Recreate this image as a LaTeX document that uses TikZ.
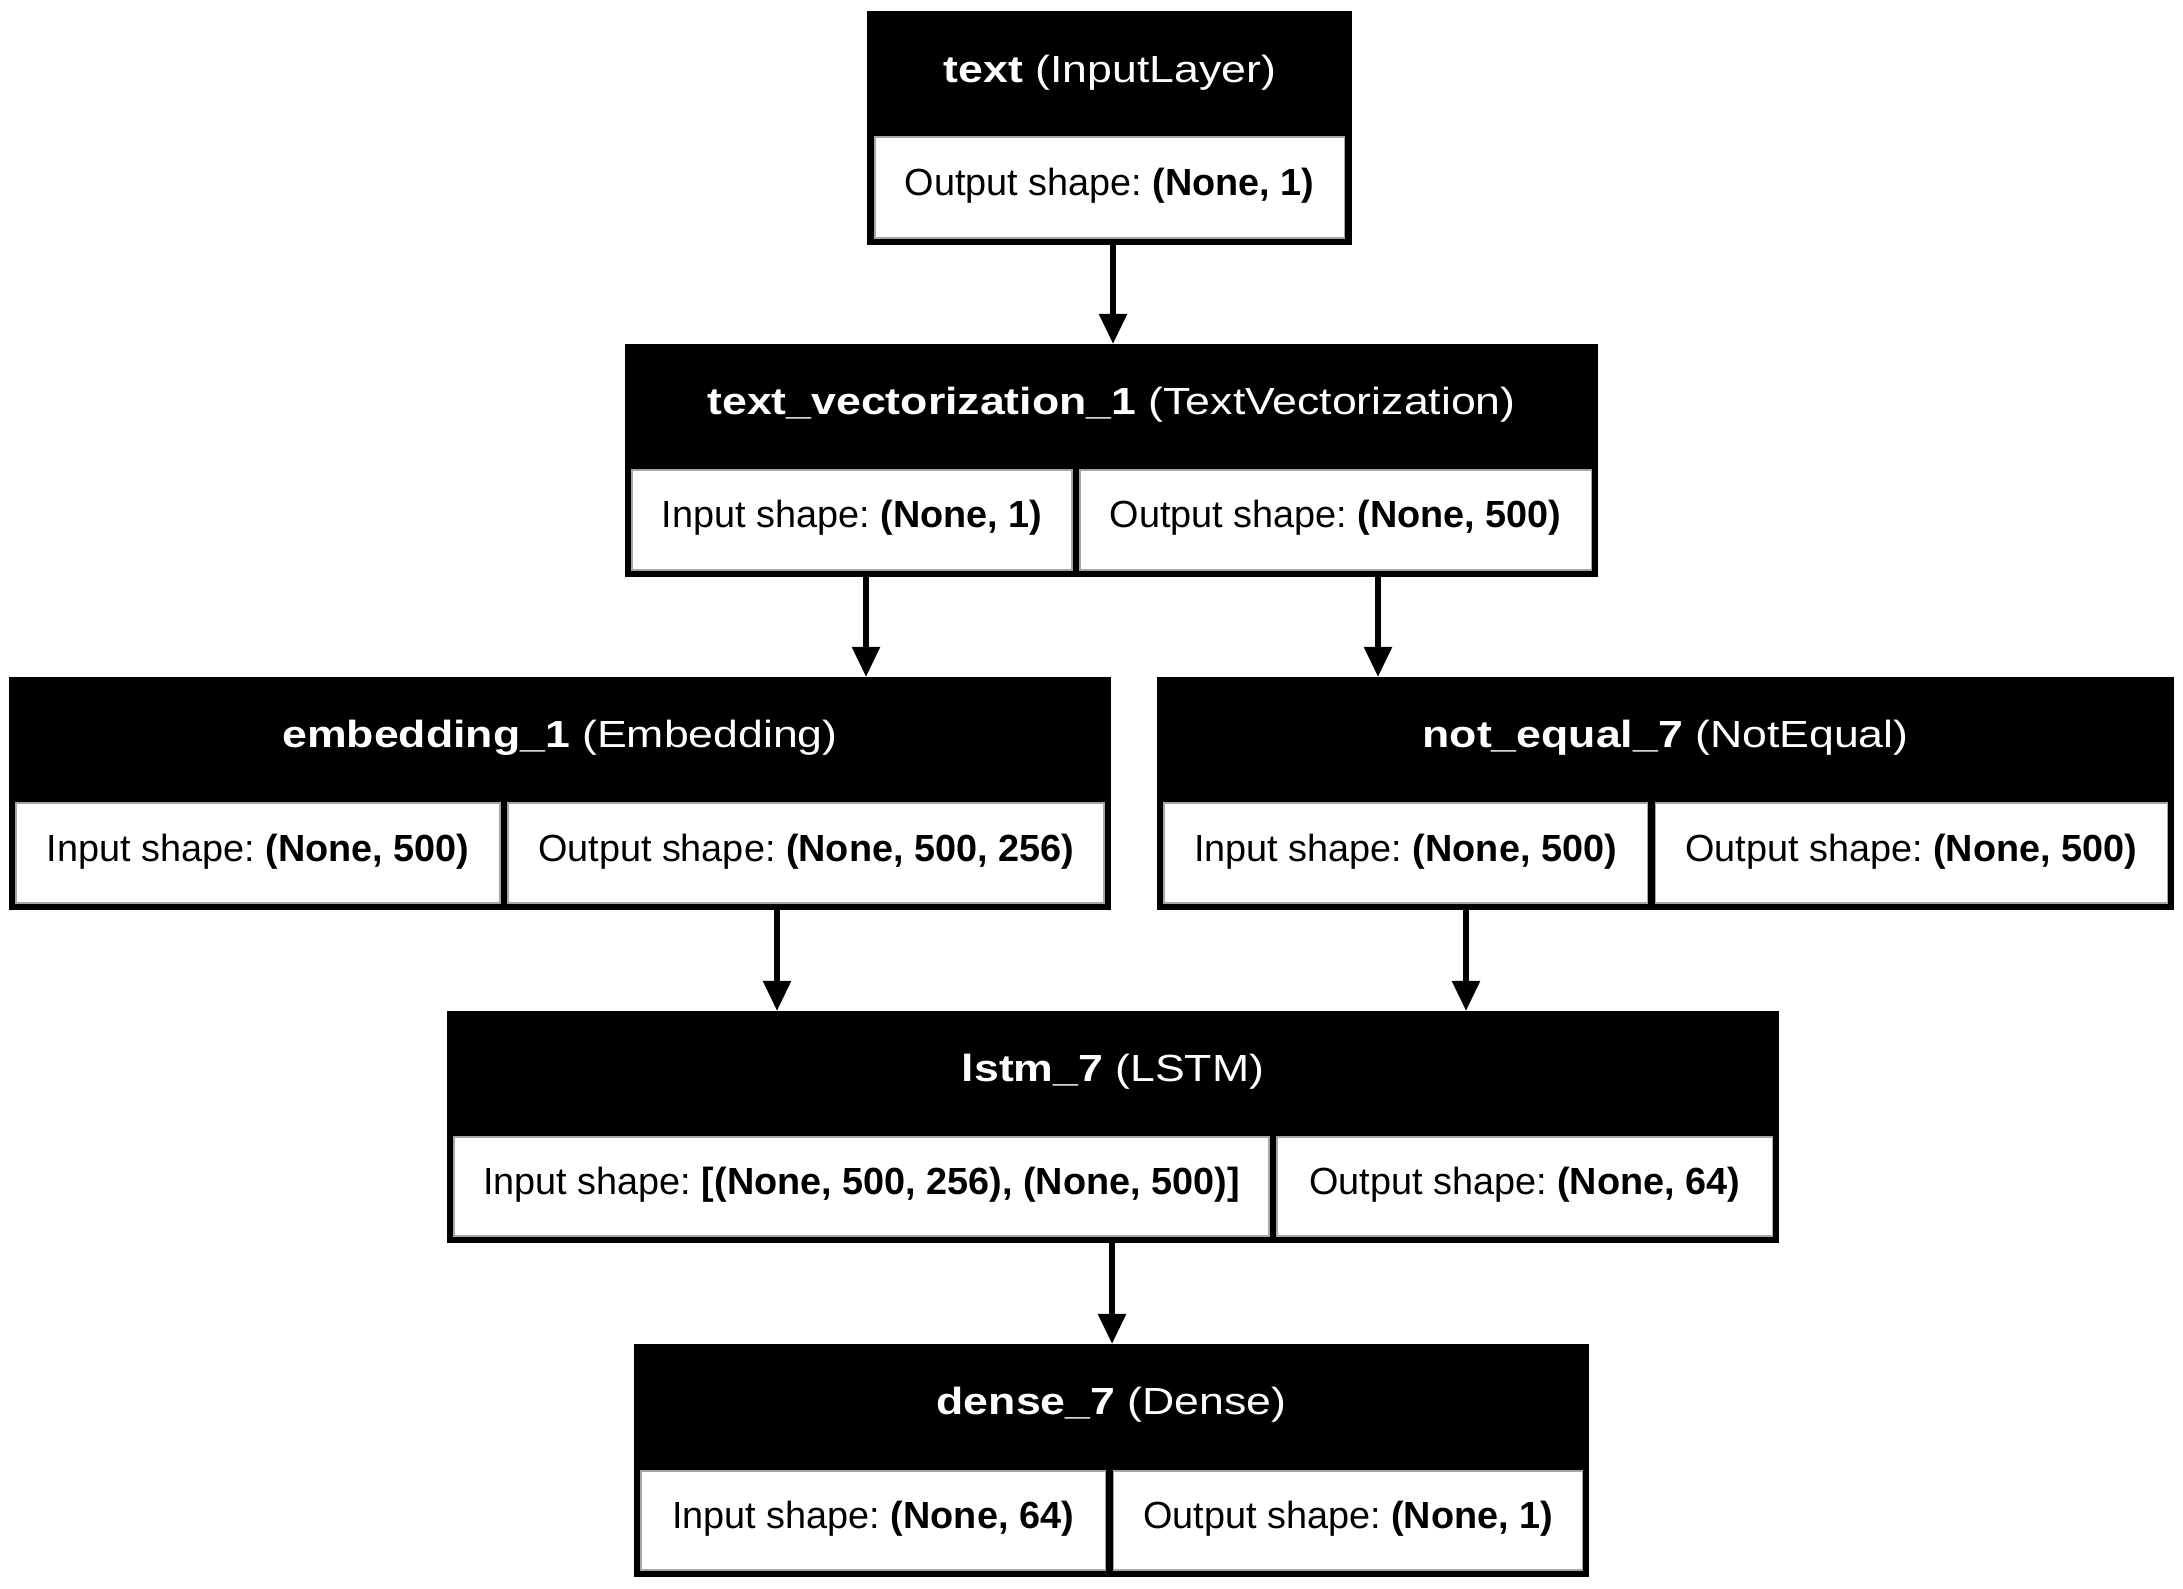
\documentclass[tikz,border=0pt]{standalone}
\usepackage{fontspec}
\setmainfont{Liberation Sans}
\newfontfamily\titlefont{Liberation Sans}[FakeStretch=1.18]
\usetikzlibrary{arrows.meta}
\frenchspacing
\tikzset{
  outerbox/.style={fill=black, draw=none, inner sep=0pt, outer sep=0pt, rectangle},
  cellfill/.style={fill=white, draw=black!35, line width=0.3pt},
  rowtxt/.style={anchor=base, inner sep=0pt, font=\fontsize{10.75}{12}\selectfont, text=black},
  titletxt/.style={anchor=base, inner sep=0pt, font=\titlefont\fontsize{10.75}{12}\selectfont, text=white},
  arr/.style={line width=1.6pt, -{Triangle[length=0.30cm, width=0.27cm]}}
}
\begin{document}
\begin{tikzpicture}[x=0.01cm, y=-0.01cm]
\useasboundingbox (0,0) rectangle (2183,1589);
\fill[white] (0,0) rectangle (2183,1589);

% ---- box 1: text
\node[outerbox, minimum width=4.85cm, minimum height=2.34cm] (b1) at (1109.5,128) {};
\path[cellfill] (875,137) rectangle (1344,238);
\node[titletxt] (b1t) at (1110,83) {\textbf{text} (InputLayer)};
\node[rowtxt] (b1o) at (1109.5,196) {Output shape: \textbf{(None, 1)}};

% ---- box 2: text_vectorization_1
\node[outerbox, minimum width=9.73cm, minimum height=2.33cm] (b2) at (1111.5,460.5) {};
\path[cellfill] (632,470) rectangle (1072,570);
\path[cellfill] (1080,470) rectangle (1591,570);
\node[titletxt] (b2t) at (1111.5,415) {\textbf{text\_vectorization\_1} (TextVectorization)};
\node[rowtxt] (b2i) at (852,528) {Input shape: \textbf{(None, 1)}};
\node[rowtxt] (b2o) at (1335.5,528) {Output shape: \textbf{(None, 500)}};

% ---- box 3: embedding_1
\node[outerbox, minimum width=11.02cm, minimum height=2.33cm] (b3) at (560,793.5) {};
\path[cellfill] (16,803) rectangle (500,903);
\path[cellfill] (508,803) rectangle (1104,903);
\node[titletxt] (b3t) at (560,748) {\textbf{embedding\_1} (Embedding)};
\node[rowtxt] (b3i) at (258,861) {Input shape: \textbf{(None, 500)}};
\node[rowtxt] (b3o) at (806,861) {Output shape: \textbf{(None, 500, 256)}};

% ---- box 4: not_equal_7
\node[outerbox, minimum width=10.17cm, minimum height=2.33cm] (b4) at (1665.5,793.5) {};
\path[cellfill] (1164,803) rectangle (1647,903);
\path[cellfill] (1655,803) rectangle (2167,903);
\node[titletxt] (b4t) at (1665.5,748) {\textbf{not\_equal\_7} (NotEqual)};
\node[rowtxt] (b4i) at (1405.5,861) {Input shape: \textbf{(None, 500)}};
\node[rowtxt] (b4o) at (1911,861) {Output shape: \textbf{(None, 500)}};

% ---- box 5: lstm_7
\node[outerbox, minimum width=13.32cm, minimum height=2.32cm] (b5) at (1113,1127) {};
\path[cellfill] (454,1137) rectangle (1269,1236);
\path[cellfill] (1277,1137) rectangle (1772,1236);
\node[titletxt] (b5t) at (1113,1081) {\textbf{lstm\_7} (LSTM)};
\node[rowtxt] (b5i) at (861.5,1194) {Input shape: \textbf{[(None, 500, 256), (None, 500)]}};
\node[rowtxt] (b5o) at (1524.5,1194) {Output shape: \textbf{(None, 64)}};

% ---- box 6: dense_7
\node[outerbox, minimum width=9.55cm, minimum height=2.33cm] (b6) at (1111.5,1460.5) {};
\path[cellfill] (641,1471) rectangle (1105.5,1570);
\path[cellfill] (1113.5,1471) rectangle (1582,1570);
\node[titletxt] (b6t) at (1111.5,1414) {\textbf{dense\_7} (Dense)};
\node[rowtxt] (b6i) at (873,1528) {Input shape: \textbf{(None, 64)}};
\node[rowtxt] (b6o) at (1348,1528) {Output shape: \textbf{(None, 1)}};

% ---- connectors
\coordinate (a1) at (1113,0);
\coordinate (a2) at (866,0);
\coordinate (a3) at (1378,0);
\coordinate (a4) at (777,0);
\coordinate (a5) at (1466,0);
\coordinate (a6) at (1112,0);
\draw[arr] (b1.south -| a1) -- (b2.north -| a1);
\draw[arr] (b2.south -| a2) -- (b3.north -| a2);
\draw[arr] (b2.south -| a3) -- (b4.north -| a3);
\draw[arr] (b3.south -| a4) -- (b5.north -| a4);
\draw[arr] (b4.south -| a5) -- (b5.north -| a5);
\draw[arr] (b5.south -| a6) -- (b6.north -| a6);
\end{tikzpicture}
\end{document}
